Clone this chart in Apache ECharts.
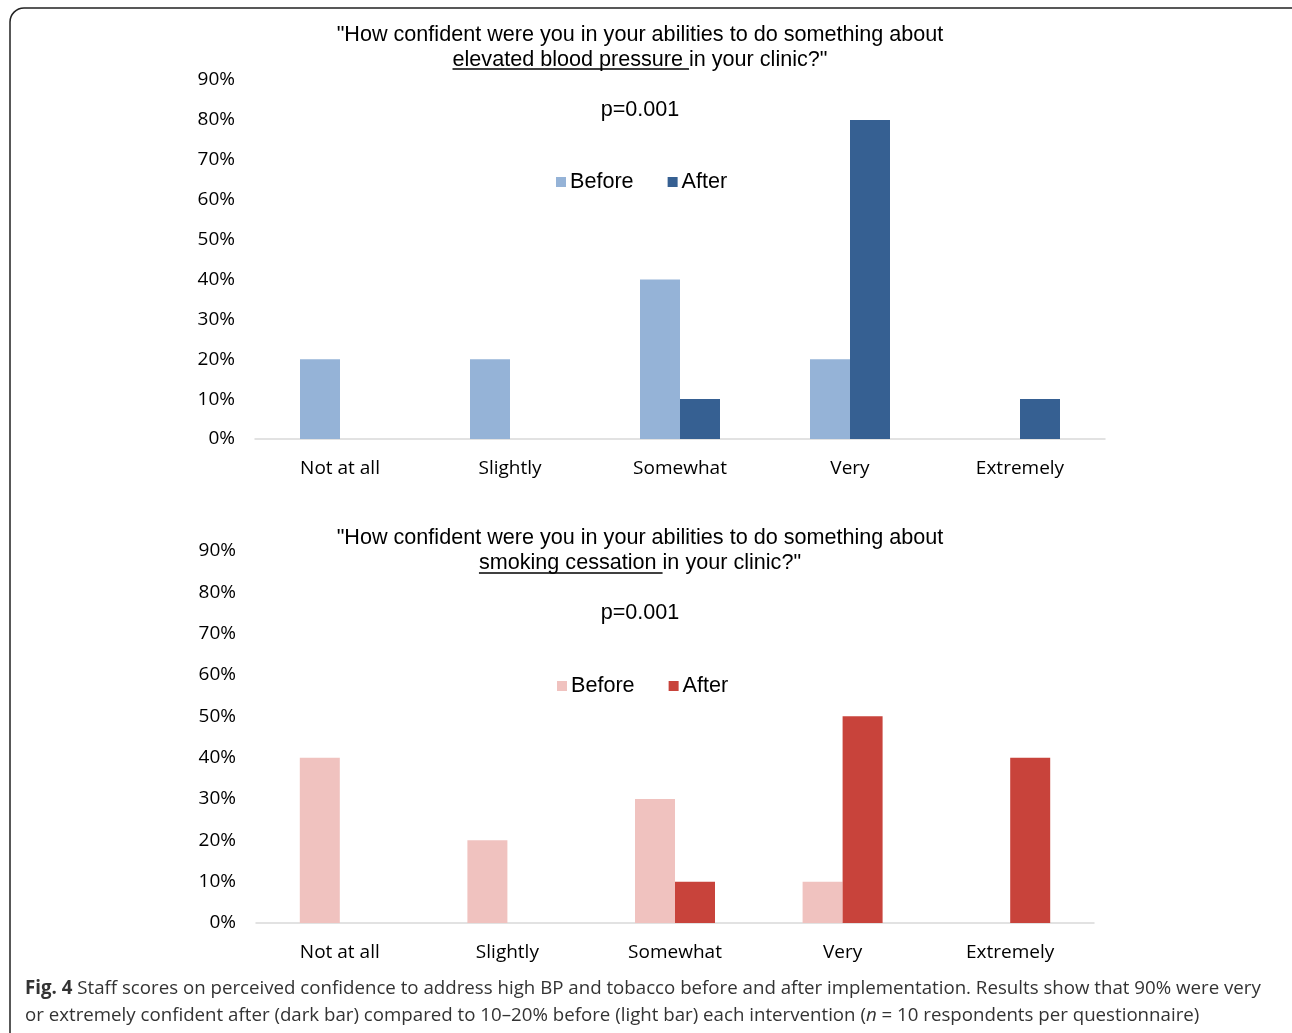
<!DOCTYPE html>
<html>
<head>
<meta charset="utf-8">
<script src="https://cdn.jsdelivr.net/npm/echarts@6/dist/echarts.min.js"></script>
<style>
html,body{margin:0;padding:0;background:#fff;}
#main{width:1292px;height:1033px;}
</style>
</head>
<body>
<div id="main"></div>
<script>
// ---- data ----
const categories = ['Not at all', 'Slightly', 'Somewhat', 'Very', 'Extremely'];
const bpBefore = [20, 20, 40, 20, 0];
const bpAfter = [0, 0, 10, 80, 10];
const smokeBefore = [40, 20, 30, 10, 0];
const smokeAfter = [0, 0, 10, 50, 40];
const yTicks = [0, 10, 20, 30, 40, 50, 60, 70, 80, 90];
const legendLabels = ['Before', 'After'];
const titleTop = ['"How confident were you in your abilities to do something about', 'elevated blood pressure ', 'in your clinic?"'];
const titleBottom = ['"How confident were you in your abilities to do something about', 'smoking cessation ', 'in your clinic?"'];
const pText = 'p=0.001';

const chart = echarts.init(document.getElementById('main'), null, {renderer: 'canvas'});

const TITLE_FONT = '"Liberation Sans", Arial, sans-serif';
const AXIS_FONT = '"Open Sans", "Noto Sans", sans-serif';
const TFS = 21.6;
const cx = 640;

const ctx = document.createElement('canvas').getContext('2d');
ctx.font = TFS + 'px ' + TITLE_FONT;
function underline(parts, y) {
  const full = ctx.measureText(parts[1] + parts[2]).width;
  const u = ctx.measureText(parts[1]).width;
  const x0 = cx - full / 2;
  return {type: 'line', shape: {x1: x0, y1: y, x2: x0 + u, y2: y}, style: {stroke: '#000', lineWidth: 1.3}, silent: true};
}

function yAxis(idx) {
  return {
    type: 'value', gridIndex: idx, min: yTicks[0], max: yTicks[yTicks.length - 1], interval: 10,
    axisLine: {show: false}, axisTick: {show: false}, splitLine: {show: false},
    axisLabel: {formatter: v => v + '%', color: '#000', fontSize: 19, fontFamily: AXIS_FONT, margin: 20, padding: [3, 0, 0, 0]}
  };
}
function xAxis(idx) {
  return {
    type: 'category', gridIndex: idx, data: categories,
    axisLine: {lineStyle: {color: '#D9D9D9', width: 1.5}}, axisTick: {show: false},
    axisLabel: {color: '#000', fontSize: 19, fontFamily: AXIS_FONT, margin: 20}
  };
}
function bar(name, data, idx, color) {
  return {name, type: 'bar', xAxisIndex: idx, yAxisIndex: idx, data, barWidth: 40, barGap: '0%',
    itemStyle: {color}, emphasis: {disabled: true}};
}
const labelMap = {bpB: legendLabels[0], bpA: legendLabels[1], smB: legendLabels[0], smA: legendLabels[1]};
function legend(names, left, top) {
  return {data: names, left, top, itemWidth: 10, itemHeight: 10, itemGap: 34, padding: 0,
    icon: 'rect', selectedMode: false,
    formatter: n => labelMap[n],
    textStyle: {fontSize: TFS, fontFamily: TITLE_FONT, color: '#000', padding: [0, 0, 0, -1]}};
}
function ttl(text, top) {
  return {text, left: cx, top, textAlign: 'center', padding: 0,
    textStyle: {fontSize: TFS, fontWeight: 'normal', fontFamily: TITLE_FONT, color: '#000', lineHeight: 25}};
}

const option = {
  animation: false,
  backgroundColor: '#fff',
  title: [
    ttl(titleTop[0] + '\n' + titleTop[1] + titleTop[2], 23),
    ttl(pText, 98),
    ttl(titleBottom[0] + '\n' + titleBottom[1] + titleBottom[2], 526),
    ttl(pText, 601)
  ],
  legend: [legend(['bpB', 'bpA'], 556, 171), legend(['smB', 'smA'], 557, 675)],
  grid: [
    {left: 255, right: 187, top: 80, bottom: 594, containLabel: false},
    {left: 256, right: 198, top: 551, bottom: 110, containLabel: false}
  ],
  xAxis: [xAxis(0), xAxis(1)],
  yAxis: [yAxis(0), yAxis(1)],
  series: [
    bar('bpB', bpBefore, 0, '#95B3D7'),
    bar('bpA', bpAfter, 0, '#366092'),
    bar('smB', smokeBefore, 1, '#F0C2BF'),
    bar('smA', smokeAfter, 1, '#C8433B')
  ],
  graphic: [
    {type: 'rect', shape: {x: 10, y: 8, width: 1300, height: 1050, r: 14}, style: {fill: null, stroke: '#222', lineWidth: 1.5}, silent: true},
    underline(titleTop, 69),
    underline(titleBottom, 573),
    {type: 'text', left: 25, top: 975, silent: true,
      style: {
        text: '{b|Fig. 4} Staff scores on perceived confidence to address high BP and tobacco before and after implementation. Results show that 90% were very\nor extremely confident after (dark bar) compared to 10–20% before (light bar) each intervention ({i|n} = 10 respondents per questionnaire)',
        font: '18.7px ' + AXIS_FONT, fill: '#333', lineHeight: 27,
        rich: {
          b: {fontWeight: 'bold', fontSize: 18.7, fontFamily: AXIS_FONT, fill: '#333', lineHeight: 27},
          i: {fontStyle: 'italic', fontSize: 18.7, fontFamily: AXIS_FONT, fill: '#333', lineHeight: 27}
        }
      }}
  ]
};
chart.setOption(option);
</script>
</body>
</html>
